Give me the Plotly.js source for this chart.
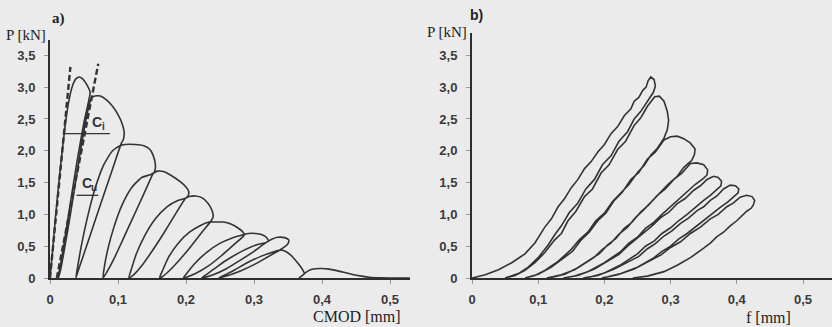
<!DOCTYPE html>
<html><head><meta charset="utf-8">
<script src="https://cdn.plot.ly/plotly-3.0.1.min.js"></script>
<style>html,body{margin:0;padding:0;background:#ebebeb;}#chart{width:832px;height:327px;}</style>
</head><body><div id="chart"></div>
<script>
// ---- panel a) : P vs CMOD (cyclic loading path, read from the picture)
const cmodA = [
 0,0.004,0.008,0.013,0.018,0.023,0.028,0.033,0.038,0.043,0.048,0.053,0.057,0.059,
 0.05,0.04,0.031,0.023,0.017,0.013,0.011,
 0.012,0.016,0.022,0.03,0.039,0.048,0.056,0.061,
 0.066,0.074,0.083,0.092,0.1,0.106,0.109,0.108,0.105,
 0.09,0.075,0.06,0.048,0.041,0.038,
 0.041,0.046,0.055,0.066,0.079,0.092,0.103,
 0.11,0.125,0.138,0.147,0.152,0.155,0.154,0.151,
 0.137,0.122,0.107,0.094,0.084,0.078,
 0.08,0.085,0.094,0.106,0.12,0.135,0.149,
 0.158,0.168,0.18,0.192,0.2,0.204,0.203,0.199,
 0.183,0.167,0.15,0.134,0.122,0.116,
 0.12,0.127,0.139,0.155,0.172,0.188,0.198,
 0.205,0.214,0.224,0.232,0.238,0.24,0.237,
 0.222,0.206,0.19,0.175,0.165,0.161,
 0.166,0.174,0.188,0.205,0.222,0.234,
 0.243,0.255,0.266,0.276,0.284,0.286,
 0.27,0.252,0.233,0.214,0.2,0.196,
 0.203,0.214,0.23,0.249,0.268,0.284,
 0.292,0.302,0.312,0.319,0.321,0.318,
 0.3,0.28,0.26,0.24,0.228,0.223,
 0.232,0.246,0.264,0.284,0.303,0.318,
 0.326,0.335,0.345,0.351,0.35,0.344,0.338,
 0.32,0.3,0.28,0.262,0.252,0.248,
 0.258,0.272,0.29,0.31,0.328,0.338,
 0.346,0.354,0.361,0.367,0.372,0.374,
 0.37,0.366,0.372,0.378,0.382,
 0.39,0.4,0.41,0.42,0.432,0.445,0.458,0.47,0.485,0.53
];
const loadA = [
 0,0.45,0.95,1.5,2.0,2.45,2.8,3.02,3.13,3.16,3.13,3.06,2.98,2.92,
 2.45,1.85,1.25,0.7,0.3,0.08,0,
 0,0.15,0.5,1.0,1.6,2.2,2.65,2.83,
 2.86,2.86,2.8,2.7,2.57,2.43,2.3,2.18,2.12,
 1.65,1.18,0.7,0.32,0.1,0,
 0.2,0.5,0.95,1.4,1.78,2.0,2.08,
 2.1,2.1,2.08,2.02,1.92,1.78,1.68,1.63,
 1.3,0.95,0.6,0.3,0.1,0,
 0.18,0.45,0.8,1.15,1.42,1.58,1.63,
 1.68,1.67,1.6,1.51,1.43,1.36,1.29,1.25,
 0.98,0.7,0.42,0.18,0.04,0,
 0.15,0.38,0.66,0.93,1.12,1.22,1.25,
 1.28,1.29,1.26,1.18,1.07,0.97,0.9,
 0.7,0.48,0.28,0.11,0.02,0,
 0.13,0.32,0.54,0.72,0.83,0.88,
 0.88,0.88,0.85,0.79,0.72,0.68,
 0.52,0.35,0.19,0.07,0.01,0,
 0.1,0.24,0.4,0.54,0.63,0.68,
 0.7,0.7,0.68,0.63,0.58,0.56,
 0.42,0.28,0.15,0.05,0.01,0,
 0.07,0.18,0.31,0.43,0.52,0.56,
 0.61,0.64,0.635,0.6,0.54,0.48,0.44,
 0.33,0.21,0.11,0.04,0.01,0,
 0.05,0.13,0.24,0.34,0.41,0.44,
 0.42,0.36,0.28,0.2,0.12,0.07,
 0.03,0,0.05,0.1,0.125,
 0.145,0.15,0.14,0.12,0.09,0.055,0.03,0.012,0.004,0
];
// dashed compliance lines and their marker lines
const ciX = [0, 0.030], ciP = [0, 3.32];
const cuX = [0.010, 0.071], cuP = [0, 3.37];
const ciMarkX = [0.020, 0.088], ciMarkP = [2.27, 2.27];
const cuMarkX = [0.039, 0.071], cuMarkP = [1.30, 1.30];

// ---- panel b) : P vs f (deflection), jagged measured curves
const fB = [
 0,0.02,0.04,0.06,0.08,0.095,0.11,0.12,0.13,0.14,0.15,0.16,0.17,0.18,0.19,0.2,0.21,0.22,0.23,0.24,0.245,0.252,0.258,0.263,0.266,0.27,
 0.275,0.277,0.274,
 0.265,0.255,0.245,0.235,0.222,0.21,0.197,0.185,0.172,0.16,0.147,0.135,0.125,0.115,0.1,0.085,0.07,0.055,0.05,
 0.065,0.08,0.095,0.11,0.125,0.135,0.145,0.157,0.17,0.182,0.195,0.207,0.22,0.232,0.245,0.255,0.265,0.276,
 0.283,0.29,0.295,0.297,0.295,0.29,
 0.28,0.27,0.26,0.25,0.237,0.225,0.212,0.2,0.187,0.175,0.162,0.15,0.13,0.11,0.095,0.08,
 0.1,0.12,0.14,0.152,0.165,0.177,0.19,0.202,0.215,0.227,0.24,0.252,0.265,0.277,0.29,
 0.3,0.31,0.32,0.33,0.337,0.336,0.332,
 0.32,0.31,0.297,0.285,0.272,0.26,0.247,0.235,0.222,0.21,0.197,0.185,0.16,0.14,0.125,0.113,
 0.135,0.155,0.18,0.192,0.205,0.217,0.23,0.242,0.255,0.267,0.28,0.292,0.305,0.317,0.33,
 0.34,0.35,0.356,0.355,0.35,
 0.337,0.325,0.312,0.3,0.287,0.275,0.262,0.25,0.237,0.225,0.2,0.175,0.155,0.138,
 0.16,0.185,0.21,0.222,0.235,0.247,0.26,0.272,0.285,0.297,0.31,0.322,0.335,0.345,0.355,
 0.365,0.372,0.377,0.376,0.372,
 0.36,0.35,0.337,0.325,0.312,0.3,0.287,0.275,0.262,0.25,0.225,0.2,0.18,0.168,
 0.19,0.215,0.24,0.252,0.265,0.277,0.29,0.302,0.315,0.327,0.34,0.35,0.36,0.37,0.38,
 0.39,0.398,0.403,0.402,0.398,
 0.387,0.375,0.362,0.35,0.337,0.325,0.312,0.3,0.287,0.275,0.25,0.225,0.205,0.196,
 0.22,0.245,0.27,0.285,0.3,0.315,0.33,0.345,0.36,0.372,0.385,0.395,0.405,
 0.415,0.423,0.427,0.425,0.422,
 0.415,0.41,0.4,0.39,0.38,0.37,0.36,0.35,0.34,0.33,0.31,0.29,0.265,0.243
];
const loadB = [
 0,0.05,0.13,0.24,0.38,0.55,0.8,0.93,1.12,1.25,1.42,1.55,1.72,1.83,1.98,2.1,2.27,2.38,2.55,2.66,2.78,2.84,2.95,3.0,3.1,3.16,
 3.12,3.02,2.92,
 2.78,2.62,2.5,2.3,2.15,1.92,1.78,1.55,1.4,1.18,1.03,0.82,0.68,0.52,0.32,0.17,0.07,0.015,0,
 0.04,0.12,0.24,0.4,0.6,0.7,0.9,1.05,1.28,1.4,1.65,1.78,2.02,2.15,2.4,2.52,2.7,2.85,
 2.86,2.78,2.62,2.48,2.33,2.2,
 2.04,1.93,1.77,1.66,1.47,1.34,1.2,1.02,0.9,0.72,0.6,0.45,0.26,0.12,0.04,0,
 0.06,0.17,0.33,0.42,0.6,0.72,0.9,1.02,1.22,1.35,1.55,1.66,1.87,1.98,2.17,
 2.22,2.23,2.19,2.12,2.03,1.94,1.85,
 1.74,1.6,1.48,1.35,1.2,1.08,0.95,0.8,0.69,0.55,0.45,0.33,0.16,0.06,0.02,0,
 0.05,0.13,0.3,0.38,0.52,0.62,0.78,0.88,1.04,1.15,1.3,1.4,1.55,1.65,1.8,
 1.81,1.78,1.7,1.62,1.57,
 1.47,1.36,1.23,1.12,1.0,0.88,0.78,0.64,0.55,0.42,0.24,0.1,0.03,0,
 0.04,0.14,0.3,0.37,0.5,0.6,0.72,0.82,0.95,1.03,1.17,1.25,1.38,1.45,1.55,
 1.6,1.58,1.52,1.45,1.41,
 1.3,1.22,1.1,1.0,0.9,0.79,0.7,0.58,0.5,0.38,0.21,0.08,0.02,0,
 0.04,0.14,0.28,0.34,0.46,0.54,0.66,0.74,0.86,0.94,1.06,1.12,1.22,1.29,1.4,
 1.46,1.45,1.4,1.34,1.3,
 1.2,1.11,1.0,0.9,0.8,0.7,0.61,0.5,0.42,0.32,0.17,0.07,0.02,0,
 0.05,0.14,0.28,0.36,0.48,0.57,0.7,0.8,0.93,1.0,1.12,1.18,1.27,
 1.3,1.28,1.22,1.15,1.1,
 1.05,1.0,0.9,0.82,0.72,0.65,0.55,0.47,0.4,0.32,0.2,0.1,0.03,0
];

// tick labels (decimal comma)
const xTickVals = [0,0.1,0.2,0.3,0.4,0.5];
const xTickText = ['0','0,1','0,2','0,3','0,4','0,5'];
const yTickVals = [0,0.5,1,1.5,2,2.5,3,3.5];
const yTickText = ['0','0,5','1,0','1,5','2,0','2,5','3,0','3,5'];

const ink = '#333333';
const traces = [
 {x: cmodA, y: loadA, xaxis:'x', yaxis:'y', mode:'lines', line:{color:ink, width:1.6, shape:'spline', smoothing:0.6}, cliponaxis:false, hoverinfo:'skip'},
 {x: ciX, y: ciP, xaxis:'x', yaxis:'y', mode:'lines', line:{color:ink, width:2.4, dash:'6px,3px'}, cliponaxis:false},
 {x: cuX, y: cuP, xaxis:'x', yaxis:'y', mode:'lines', line:{color:ink, width:2.4, dash:'6px,3px'}, cliponaxis:false},
 {x: ciMarkX, y: ciMarkP, xaxis:'x', yaxis:'y', mode:'lines', line:{color:ink, width:1.3}},
 {x: cuMarkX, y: cuMarkP, xaxis:'x', yaxis:'y', mode:'lines', line:{color:ink, width:1.3}},
 {x: fB, y: loadB, xaxis:'x2', yaxis:'y2', mode:'lines', line:{color:ink, width:1.6}, cliponaxis:false, hoverinfo:'skip'}
];

const tickFont = {family:'Liberation Sans, Arial, sans-serif', size:13, color:'#3a3a3a', weight:'bold'};
const axBase = {
 showgrid:false, zeroline:false, showline:true, linecolor:'#2e2e2e', linewidth:2,
 ticks:'outside', ticklen:4, tickwidth:1, tickcolor:'#9a9a9a',
 tickfont:tickFont, fixedrange:true
};
const serif = 'Liberation Serif, Times New Roman, serif';
const sans = 'Liberation Sans, Arial, sans-serif';
const layout = {
 width:832, height:327, margin:{l:0,r:0,t:0,b:0},
 paper_bgcolor:'#ebebeb', plot_bgcolor:'rgba(0,0,0,0)', showlegend:false,
 xaxis: Object.assign({}, axBase, {domain:[50/832, 410/832], range:[0, 0.5294], tickvals:xTickVals, ticktext:xTickText, anchor:'y', ticklabelstandoff:4}),
 yaxis: Object.assign({}, axBase, {domain:[49/327, 287/327], range:[0, 3.742], tickvals:yTickVals, ticktext:yTickText, anchor:'x', ticklabelstandoff:6}),
 xaxis2: Object.assign({}, axBase, {domain:[472/832, 1], range:[0, 0.5438], tickvals:xTickVals, ticktext:xTickText, anchor:'y2', ticklabelstandoff:4}),
 yaxis2: Object.assign({}, axBase, {domain:[49/327, 294/327], range:[0, 3.852], tickvals:yTickVals, ticktext:yTickText, anchor:'x2', ticklabelstandoff:6}),
 annotations: [
  {xref:'paper', yref:'paper', x:48/832, y:(327-35)/327, xanchor:'right', yanchor:'middle', showarrow:false, text:'P [kN]', font:{family:serif, size:15, color:'#222'}},
  {xref:'paper', yref:'paper', x:469/832, y:(327-32)/327, xanchor:'right', yanchor:'middle', showarrow:false, text:'P [kN]', font:{family:serif, size:15, color:'#222'}},
  {xref:'paper', yref:'paper', x:403/832, y:(327-316)/327, xanchor:'right', yanchor:'middle', showarrow:false, text:'CMOD [mm]', font:{family:serif, size:16, color:'#222'}},
  {xref:'paper', yref:'paper', x:793/832, y:(327-317)/327, xanchor:'right', yanchor:'middle', showarrow:false, text:'f [mm]', font:{family:serif, size:16, color:'#222'}},
  {xref:'paper', yref:'paper', x:58/832, y:(327-18)/327, xanchor:'center', yanchor:'middle', showarrow:false, text:'a)', font:{family:serif, size:15, color:'#222', weight:'bold'}},
  {xref:'paper', yref:'paper', x:476/832, y:(327-15)/327, xanchor:'center', yanchor:'middle', showarrow:false, text:'b)', font:{family:sans, size:14, color:'#222', weight:'bold'}},
  {xref:'x', yref:'y', x:0.069, y:2.27, xanchor:'center', yanchor:'bottom', yshift:2, showarrow:false, text:'C', font:{family:sans, size:14, color:'#333', weight:'bold'}},
  {xref:'x', yref:'y', x:0.078, y:2.27, xanchor:'center', yanchor:'bottom', yshift:0, showarrow:false, text:'i', font:{family:sans, size:10, color:'#333', weight:'bold'}},
  {xref:'x', yref:'y', x:0.055, y:1.30, xanchor:'center', yanchor:'bottom', yshift:2, showarrow:false, text:'C', font:{family:sans, size:14, color:'#333', weight:'bold'}},
  {xref:'x', yref:'y', x:0.065, y:1.30, xanchor:'center', yanchor:'bottom', yshift:0, showarrow:false, text:'u', font:{family:sans, size:10, color:'#333', weight:'bold'}}
 ]
};
Plotly.newPlot('chart', traces, layout, {displayModeBar:false, staticPlot:true});
</script></body></html>
